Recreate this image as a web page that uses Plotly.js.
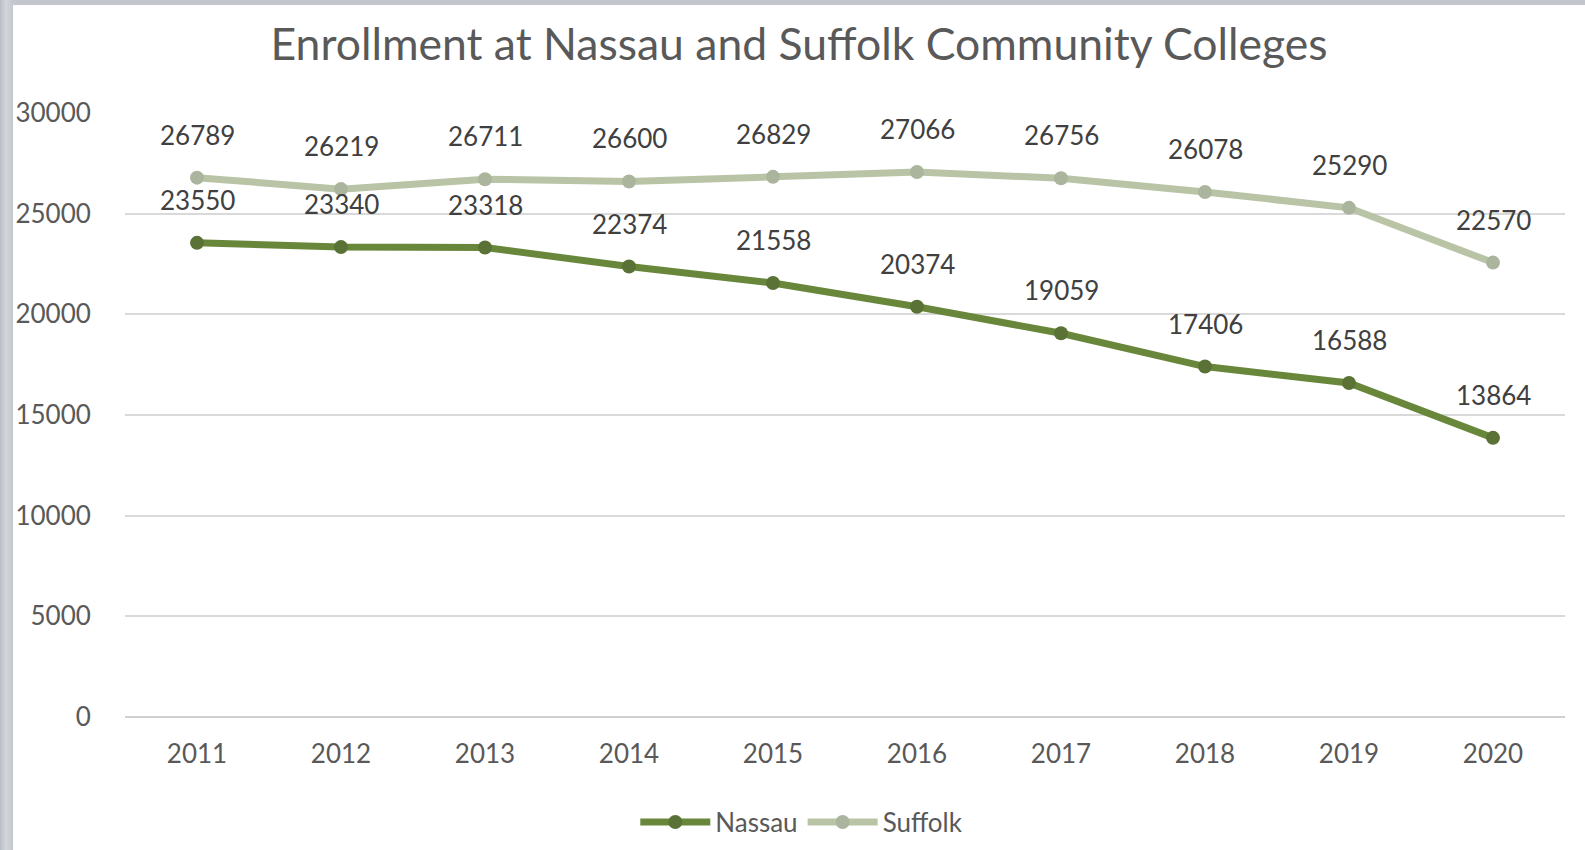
<!DOCTYPE html>
<html>
<head>
<meta charset="utf-8">
<script src="https://cdn.plot.ly/plotly-3.0.1.min.js"></script>
<style>
  html, body { margin: 0; padding: 0; width: 1585px; height: 850px; overflow: hidden;
    background: linear-gradient(to right, #b9bdc6 0px, #d4d6db 6px, #c3c6cd 13px); }
  #chart { position: absolute; left: 13px; top: 5px; width: 1572px; height: 845px; background: #fff; }
</style>
</head>
<body>
<div id="chart"></div>
<script>
const years = ['2011','2012','2013','2014','2015','2016','2017','2018','2019','2020'];
const nassau = [23550, 23340, 23318, 22374, 21558, 20374, 19059, 17406, 16588, 13864];
const suffolk = [26789, 26219, 26711, 26600, 26829, 27066, 26756, 26078, 25290, 22570];
const yTicks = [0, 5000, 10000, 15000, 20000, 25000, 30000];

const labelFont = {family: 'Lato, "Open Sans", sans-serif', size: 26, color: '#404040'};

const traces = [
  {
    x: years, y: nassau, name: 'Nassau', type: 'scatter', mode: 'lines+markers',
    line: {color: '#68873b', width: 7},
    marker: {color: '#5a7236', size: 14, symbol: 'circle'}
  },
  {
    x: years, y: suffolk, name: 'Suffolk', type: 'scatter', mode: 'lines+markers',
    line: {color: '#b9c3a6', width: 7},
    marker: {color: '#abb59e', size: 14, symbol: 'circle'}
  }
];

// data labels: category index position on the category axis, value on the y axis
const annotations = [];
[nassau, suffolk].forEach(series => {
  series.forEach((v, i) => {
    annotations.push({
      x: i, y: v, xref: 'x', yref: 'y', text: String(v),
      showarrow: false, yshift: 43, font: labelFont
    });
  });
});

const layout = {
  width: 1572, height: 845,
  margin: {l: 112, r: 20, t: 108, b: 133, autoexpand: false},
  paper_bgcolor: '#ffffff', plot_bgcolor: '#ffffff',
  title: {
    text: 'Enrollment at Nassau and Suffolk Community Colleges',
    font: {family: 'Lato, "Open Sans", sans-serif', size: 44.5, color: '#595959'},
    x: 0.5, xref: 'container', xanchor: 'center',
    y: 0.953, yref: 'container', yanchor: 'middle'
  },
  xaxis: {
    type: 'category', categoryarray: years, categoryorder: 'array',
    range: [-0.5, years.length - 0.5], autorange: false, automargin: false,
    showgrid: false, zeroline: false, showline: false,
    ticks: 'outside', ticklen: 14, tickcolor: 'rgba(0,0,0,0)',
    tickfont: {family: 'Lato, "Open Sans", sans-serif', size: 26, color: '#595959'}
  },
  yaxis: {
    range: [0, 30000], autorange: false, automargin: false,
    tickvals: yTicks, ticktext: yTicks.map(String),
    showgrid: true, gridcolor: '#d9d9d9', gridwidth: 2,
    zeroline: true, zerolinecolor: '#d0d0d0', zerolinewidth: 2, showline: false,
    ticks: 'outside', ticklen: 28, tickcolor: 'rgba(0,0,0,0)',
    tickfont: {family: 'Lato, "Open Sans", sans-serif', size: 26, color: '#595959'}
  },
  showlegend: true,
  legend: {
    orientation: 'h', x: 0.47, xanchor: 'center', y: -0.174, yanchor: 'middle',
    font: {family: 'Lato, "Open Sans", sans-serif', size: 26, color: '#595959'},
    itemwidth: 70, bgcolor: 'rgba(0,0,0,0)'
  },
  annotations: annotations
};

Plotly.newPlot('chart', traces, layout, {displayModeBar: false, staticPlot: true});
</script>
</body>
</html>
